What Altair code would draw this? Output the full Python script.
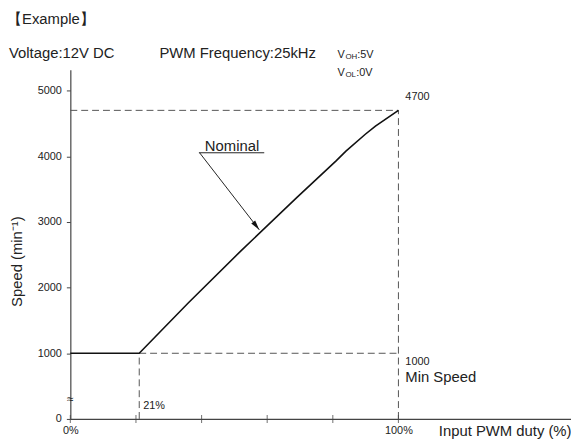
import altair as alt
import pandas as pd

# ---- data ----
duty = [0, 21, 36, 52, 69, 81, 84, 90, 93, 100]
speed = [1000, 1000, 1770, 2560, 3370, 3930, 4080, 4340, 4460, 4700]

x_ticks = [0, 20, 40, 60, 80, 100]
y_ticks = [0, 1000, 2000, 3000, 4000, 5000]

MIN_DUTY = 21
MAX_DUTY = 100
MIN_SPEED = 1000
MAX_SPEED = 4700

X_MAX = 152.6
Y_MAX = 5320

W, H = 506, 353
FONT = "Liberation Sans"
TXT = "#222222"
AX = "#444444"

xs = alt.Scale(domain=[0, X_MAX], nice=False, zero=False)
ys = alt.Scale(domain=[0, Y_MAX], nice=False, zero=False)

X_AXIS = alt.Axis(
    values=x_ticks,
    labelExpr="datum.value == 0 || datum.value == 100 ? datum.value + '%' : ''",
    ticks=False, grid=False, domainColor=AX, domainWidth=1.2,
    labelFont=FONT, labelFontSize=11, labelColor=TXT, labelPadding=6,
    labelFlush=False, labelOverlap=False,
    title="Input PWM duty (%)", titleX=W, titleY=17, titleAlign="right",
    titleBaseline="alphabetic", titleFont=FONT, titleFontSize=15,
    titleFontWeight="normal", titleColor=TXT)
Y_AXIS = alt.Axis(
    values=y_ticks, format="d", tickSize=4, tickColor=AX, domainColor=AX,
    domainWidth=1.2, grid=False, labelFont=FONT, labelFontSize=11,
    labelColor=TXT, labelPadding=5, labelFlush=False, labelOverlap=False,
    title=None)


def X(field):
    return alt.X(field, scale=xs, axis=X_AXIS)


def Y(field):
    return alt.Y(field, scale=ys, axis=Y_AXIS)


curve_df = pd.DataFrame({"duty": duty, "speed": speed})
curve = alt.Chart(curve_df).mark_line(color="#111111", strokeWidth=1.6).encode(
    x=X("duty:Q"), y=Y("speed:Q"))

guides_df = pd.DataFrame({
    "x": [0, MAX_DUTY, MIN_DUTY, MIN_DUTY],
    "x2": [MAX_DUTY, MAX_DUTY, MAX_DUTY, MIN_DUTY],
    "y": [MAX_SPEED, 0, MIN_SPEED, 0],
    "y2": [MAX_SPEED, MAX_SPEED, MIN_SPEED, MIN_SPEED],
})
guides = alt.Chart(guides_df).mark_rule(strokeDash=[7, 4], color="#555555", strokeWidth=1).encode(
    x=X("x:Q"), x2="x2:Q", y=Y("y:Q"), y2="y2:Q")

ticks_df = pd.DataFrame({"t": x_ticks, "z": [0] * len(x_ticks)})
xticks = alt.Chart(ticks_df).mark_tick(orient="vertical", size=8, thickness=1.1, color=AX).encode(
    x=X("t:Q"), y=Y("z:Q"))


def data_text(label, xv, yv, size=11, dx=0, dy=0, align="left", baseline="middle"):
    df = pd.DataFrame({"x": [xv], "y": [yv], "label": [label]})
    return alt.Chart(df).mark_text(font=FONT, fontSize=size, color=TXT, align=align,
                                   baseline=baseline, dx=dx, dy=dy).encode(
        x=X("x:Q"), y=Y("y:Q"), text="label:N")


def px_text(label, px, py, size=15, align="left", baseline="alphabetic", angle=0):
    return alt.Chart(alt.Data(values=[{}])).mark_text(
        font=FONT, fontSize=size, color=TXT, align=align, baseline=baseline, angle=angle,
        text=label).encode(x=alt.value(px), y=alt.value(py))


labels = [
    data_text(str(MAX_SPEED), MAX_DUTY, MAX_SPEED, 11, dx=7, dy=-13),
    data_text(str(MIN_SPEED), MAX_DUTY, MIN_SPEED, 11, dx=7, dy=9),
    data_text("Min Speed", MAX_DUTY, MIN_SPEED, 15, dx=7, dy=24),
    data_text(f"{MIN_DUTY}%", MIN_DUTY, 200, 11, dx=4),
    data_text("≈", 0, 300, 12, align="center"),
    data_text("Nominal", 41.0, 4084, 15, baseline="alphabetic"),
]

# annotation: underline + leader arrow for "Nominal"
lead_df = pd.DataFrame({"x": [39.2, 39.4], "x2": [59.1, 57.6], "y": [4054, 4054], "y2": [4054, 2880]})
leader = alt.Chart(lead_df).mark_rule(color="#222222", strokeWidth=1).encode(
    x=X("x:Q"), x2="x2:Q", y=Y("y:Q"), y2="y2:Q")
head_df = pd.DataFrame({"x": [57.6], "y": [2880]})
head = alt.Chart(head_df).mark_point(
    shape="M0,0L-0.25,-1L0.25,-1Z", size=400, angle=322, filled=True, color="#111111", opacity=1
).encode(x=X("x:Q"), y=Y("y:Q"))

header = [
    px_text("【Example】", -64, -46, 15),
    px_text("Voltage:12V DC", -62, -12, 15),
    px_text("PWM Frequency:25kHz", 90, -12, 15),
    px_text("V", 270, -12, 11),
    px_text("OH", 278, -11, 8),
    px_text(":5V", 290, -12, 11),
    px_text("V", 270, 6, 11),
    px_text("OL", 278, 7, 8),
    px_text(":0V", 289, 6, 11),
    px_text("Speed (min⁻¹)", -54, 194, 15, align="center", baseline="middle", angle=270),
]

chart = alt.layer(guides, curve, xticks, leader, head, *labels, *header).properties(
    width=W, height=H,
    autosize=alt.AutoSizeParams(type="none"),
    padding={"left": 63, "top": 60, "right": 0, "bottom": 21},
).configure_view(stroke=None)

chart.save("out.html", embed_options={"renderer": "svg", "actions": False})
